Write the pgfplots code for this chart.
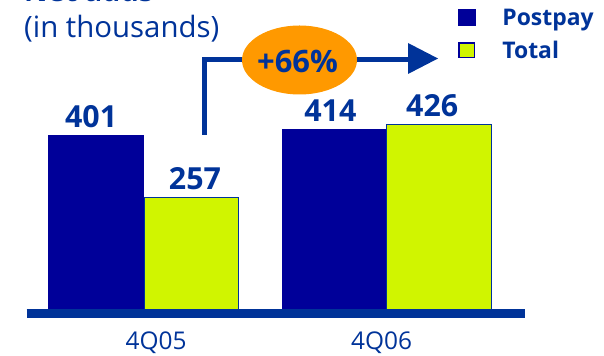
\documentclass[border=0pt]{standalone}
\usepackage{fontspec}
\setmainfont{Open Sans}
\usepackage{pgfplots}
\pgfplotsset{compat=1.18}
\definecolor{postpay}{RGB}{0,0,153}
\definecolor{total}{RGB}{208,245,0}
\definecolor{tblue}{RGB}{0,51,153}
\definecolor{orng}{RGB}{255,153,0}
\begin{document}
\begin{tikzpicture}
\useasboundingbox (0,0) rectangle (604bp,356bp);
\clip (0,0) rectangle (604bp,356bp);
\begin{axis}[
  at={(0,0)}, anchor=south west,
  scale only axis, width=604bp, height=356bp,
  xmin=0, xmax=604, ymin=-105.5, ymax=711,
  axis line style={draw=none},
  major tick length=0pt,
  ytick=\empty,
  xtick={156,381.5},
  xticklabels={4Q05,4Q06},
  xticklabel style={font=\fontsize{24.5}{28}\selectfont, text=tblue, anchor=base, yshift=7bp},
  /pgf/number format/assume math mode=true,
  every node near coord/.append style={font=\bfseries\fontsize{30.5}{34}\selectfont, text=tblue, anchor=base, yshift=8bp},
  legend style={at={(458/604,1-9/356)}, anchor=north west, draw=none, fill=none,
    inner sep=0pt, outer sep=0pt, column sep=27bp, row sep=17bp,
    nodes={text=tblue, font=\bfseries\fontsize{23}{23}\selectfont, inner sep=0pt, text height=16bp, text depth=0bp}},
  legend cell align=left,
]
\addplot[ybar, bar shift=0pt, bar width=95.7, fill=postpay, draw=none, nodes near coords,
  every node near coord/.append style={xshift=-5bp}, forget plot] coordinates {(96.15,401)};
\addplot[ybar, bar shift=0pt, bar width=94, fill=total, draw=tblue, line width=1bp, nodes near coords,
  every node near coord/.append style={xshift=4bp}, forget plot] coordinates {(191,257)};
\addplot[ybar, bar shift=0pt, bar width=104.7, fill=postpay, draw=none, nodes near coords,
  every node near coord/.append style={xshift=-4bp}, forget plot] coordinates {(334.35,414)};
\addplot[ybar, bar shift=0pt, bar width=105, fill=total, draw=tblue, line width=1bp, nodes near coords,
  every node near coord/.append style={xshift=-7bp}, forget plot] coordinates {(439.2,426)};
\addlegendimage{legend image code/.code={\fill[postpay] (0bp,-8bp) rectangle (17bp,8bp);}}
\addlegendentry{Postpay}
\addlegendimage{legend image code/.code={\draw[fill=total, draw=postpay, line width=1.5bp] (0.75bp,-7.25bp) rectangle (16.25bp,7.25bp);}}
\addlegendentry{Total}
\end{axis}
\begin{scope}[x=1bp, y=-1bp, yshift=356bp]
\draw[tblue, line width=8.4bp] (26.7,313.5) -- (525,313.5);
\draw[tblue, line width=4.5bp] (204.5,135) -- (204.5,59.5) -- (410,59.5);
\fill[tblue] (408,43) -- (438,58.5) -- (408,74) -- cycle;
\fill[orng] (299.5,60) ellipse [x radius=57.5bp, y radius=34.5bp];
\node[text=tblue, font=\bfseries\fontsize{31}{31}\selectfont, inner sep=0pt] at (297.5,61) {+66\%};
\node[anchor=base west, text=tblue, font=\fontsize{29.5}{30}\selectfont, inner sep=0pt] at (24,37.5) {(in thousands)};
\node[anchor=base west, text=tblue, font=\bfseries\fontsize{29}{29}\selectfont, inner sep=0pt] at (24,2) {Net adds};
\end{scope}
\end{tikzpicture}
\end{document}
